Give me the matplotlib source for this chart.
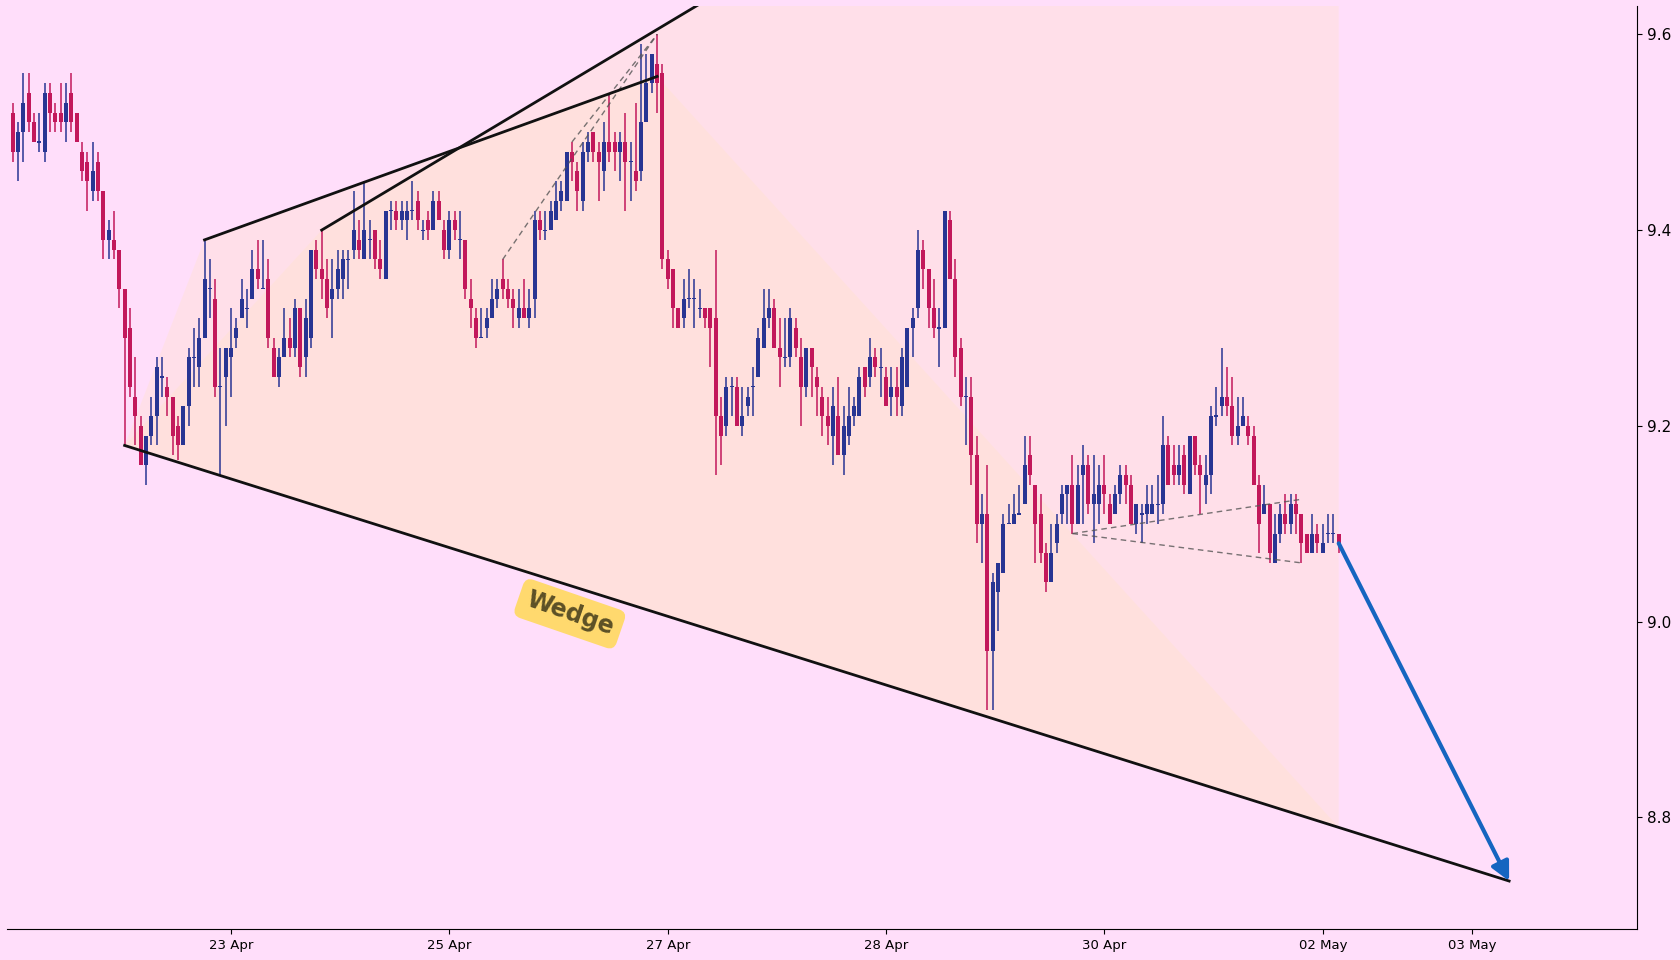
import matplotlib
matplotlib.use('Agg')
import matplotlib.pyplot as plt
import numpy as np

# OHLC values (one bar per index)
opens = [9.52, 9.48, 9.50, 9.54, 9.51, 9.49, 9.48, 9.54, 9.52, 9.52,
         9.51, 9.54, 9.52, 9.48, 9.47, 9.44, 9.47, 9.44, 9.39, 9.39,
         9.38, 9.34, 9.30, 9.23, 9.20, 9.16, 9.19, 9.21, 9.25, 9.24,
         9.23, 9.20, 9.18, 9.22, 9.27, 9.26, 9.29, 9.34, 9.33, 9.24,
         9.25, 9.27, 9.29, 9.31, 9.32, 9.33, 9.36, 9.34, 9.35, 9.28,
         9.25, 9.27, 9.29, 9.28, 9.32, 9.27, 9.29, 9.38, 9.36, 9.35,
         9.33, 9.34, 9.35, 9.37, 9.38, 9.39, 9.37, 9.39, 9.40, 9.37,
         9.35, 9.42, 9.42, 9.41, 9.41, 9.42, 9.43, 9.40, 9.41, 9.40,
         9.43, 9.40, 9.38, 9.41, 9.39, 9.39, 9.33, 9.31, 9.29, 9.30,
         9.31, 9.33, 9.35, 9.34, 9.33, 9.31, 9.32, 9.31, 9.33, 9.41,
         9.40, 9.40, 9.41, 9.43, 9.43, 9.48, 9.46, 9.43, 9.48, 9.50,
         9.48, 9.46, 9.49, 9.49, 9.48, 9.49, 9.47, 9.46, 9.46, 9.51,
         9.55, 9.57, 9.56, 9.37, 9.36, 9.32, 9.31, 9.33, 9.33, 9.32,
         9.32, 9.32, 9.31, 9.21, 9.20, 9.24, 9.24, 9.20, 9.22, 9.24,
         9.25, 9.28, 9.31, 9.32, 9.28, 9.27, 9.27, 9.30, 9.27, 9.24,
         9.28, 9.25, 9.23, 9.21, 9.19, 9.21, 9.17, 9.19, 9.21, 9.21,
         9.26, 9.25, 9.27, 9.26, 9.25, 9.23, 9.24, 9.22, 9.24, 9.30,
         9.32, 9.38, 9.36, 9.32, 9.30, 9.30, 9.41, 9.35, 9.28, 9.23,
         9.23, 9.17, 9.10, 9.11, 8.97, 9.03, 9.05, 9.10, 9.10, 9.11,
         9.12, 9.17, 9.14, 9.11, 9.07, 9.04, 9.08, 9.11, 9.13, 9.14,
         9.10, 9.15, 9.16, 9.12, 9.12, 9.14, 9.12, 9.11, 9.13, 9.15,
         9.14, 9.10, 9.11, 9.11, 9.11, 9.12, 9.12, 9.18, 9.16, 9.15,
         9.17, 9.13, 9.19, 9.16, 9.14, 9.15, 9.21, 9.22, 9.23, 9.22,
         9.19, 9.20, 9.20, 9.19, 9.14, 9.11, 9.12, 9.06, 9.09, 9.11,
         9.10, 9.12, 9.11, 9.09, 9.07, 9.09, 9.07, 9.09, 9.09, 9.09]
highs = [9.53, 9.51, 9.56, 9.56, 9.52, 9.52, 9.55, 9.55, 9.53, 9.55,
         9.55, 9.56, 9.52, 9.49, 9.48, 9.49, 9.48, 9.44, 9.41, 9.42,
         9.38, 9.34, 9.32, 9.27, 9.21, 9.19, 9.23, 9.27, 9.27, 9.25,
         9.23, 9.21, 9.22, 9.28, 9.30, 9.31, 9.39, 9.37, 9.35, 9.28,
         9.28, 9.32, 9.31, 9.35, 9.34, 9.38, 9.39, 9.39, 9.37, 9.29,
         9.28, 9.32, 9.31, 9.33, 9.32, 9.33, 9.38, 9.39, 9.40, 9.37,
         9.37, 9.38, 9.38, 9.38, 9.44, 9.41, 9.45, 9.41, 9.40, 9.39,
         9.42, 9.43, 9.43, 9.43, 9.43, 9.45, 9.44, 9.41, 9.42, 9.44,
         9.44, 9.41, 9.42, 9.42, 9.42, 9.39, 9.35, 9.32, 9.32, 9.32,
         9.35, 9.35, 9.37, 9.35, 9.34, 9.34, 9.35, 9.34, 9.42, 9.42,
         9.42, 9.43, 9.45, 9.45, 9.48, 9.49, 9.47, 9.49, 9.50, 9.50,
         9.49, 9.51, 9.54, 9.50, 9.50, 9.52, 9.49, 9.53, 9.59, 9.58,
         9.58, 9.60, 9.57, 9.38, 9.36, 9.32, 9.35, 9.36, 9.35, 9.34,
         9.32, 9.32, 9.38, 9.23, 9.25, 9.25, 9.25, 9.24, 9.24, 9.26,
         9.30, 9.34, 9.34, 9.33, 9.31, 9.31, 9.32, 9.31, 9.29, 9.28,
         9.28, 9.26, 9.24, 9.23, 9.24, 9.25, 9.22, 9.24, 9.23, 9.26,
         9.26, 9.29, 9.28, 9.28, 9.26, 9.26, 9.26, 9.28, 9.30, 9.32,
         9.40, 9.39, 9.36, 9.35, 9.32, 9.42, 9.42, 9.37, 9.29, 9.25,
         9.25, 9.19, 9.13, 9.16, 9.05, 9.06, 9.11, 9.12, 9.13, 9.14,
         9.19, 9.19, 9.14, 9.13, 9.08, 9.10, 9.11, 9.14, 9.14, 9.17,
         9.16, 9.18, 9.17, 9.17, 9.16, 9.17, 9.13, 9.14, 9.16, 9.16,
         9.15, 9.12, 9.12, 9.14, 9.14, 9.15, 9.21, 9.19, 9.18, 9.18,
         9.18, 9.19, 9.19, 9.17, 9.17, 9.22, 9.24, 9.28, 9.26, 9.25,
         9.23, 9.23, 9.21, 9.20, 9.15, 9.14, 9.12, 9.11, 9.12, 9.13,
         9.13, 9.13, 9.11, 9.09, 9.11, 9.10, 9.10, 9.11, 9.11, 9.09]
lows = [9.47, 9.45, 9.47, 9.50, 9.49, 9.48, 9.47, 9.50, 9.50, 9.50,
        9.49, 9.50, 9.49, 9.45, 9.42, 9.43, 9.43, 9.37, 9.37, 9.37,
        9.32, 9.18, 9.23, 9.18, 9.16, 9.14, 9.18, 9.18, 9.23, 9.21,
        9.17, 9.165, 9.18, 9.20, 9.24, 9.24, 9.29, 9.31, 9.23, 9.15,
        9.20, 9.23, 9.28, 9.31, 9.30, 9.33, 9.34, 9.34, 9.28, 9.25,
        9.24, 9.27, 9.27, 9.27, 9.25, 9.25, 9.28, 9.35, 9.33, 9.31,
        9.29, 9.33, 9.33, 9.34, 9.37, 9.37, 9.37, 9.37, 9.36, 9.35,
        9.35, 9.40, 9.40, 9.40, 9.39, 9.41, 9.40, 9.39, 9.39, 9.40,
        9.41, 9.37, 9.37, 9.39, 9.37, 9.33, 9.30, 9.28, 9.29, 9.29,
        9.31, 9.32, 9.33, 9.32, 9.30, 9.30, 9.31, 9.30, 9.31, 9.39,
        9.39, 9.40, 9.41, 9.42, 9.43, 9.45, 9.42, 9.42, 9.47, 9.47,
        9.43, 9.44, 9.47, 9.46, 9.45, 9.42, 9.43, 9.44, 9.45, 9.51,
        9.54, 9.52, 9.36, 9.34, 9.30, 9.30, 9.30, 9.32, 9.30, 9.31,
        9.30, 9.26, 9.15, 9.16, 9.19, 9.21, 9.20, 9.19, 9.21, 9.21,
        9.25, 9.28, 9.30, 9.28, 9.24, 9.26, 9.26, 9.27, 9.20, 9.23,
        9.23, 9.21, 9.19, 9.18, 9.16, 9.17, 9.15, 9.18, 9.20, 9.21,
        9.23, 9.24, 9.25, 9.23, 9.22, 9.21, 9.21, 9.21, 9.24, 9.27,
        9.31, 9.34, 9.30, 9.29, 9.26, 9.30, 9.35, 9.25, 9.22, 9.18,
        9.14, 9.08, 9.06, 8.91, 8.91, 8.99, 9.05, 9.10, 9.10, 9.11,
        9.12, 9.14, 9.06, 9.06, 9.03, 9.04, 9.07, 9.10, 9.10, 9.09,
        9.10, 9.10, 9.11, 9.08, 9.10, 9.11, 9.10, 9.11, 9.12, 9.12,
        9.10, 9.09, 9.08, 9.10, 9.11, 9.10, 9.11, 9.14, 9.14, 9.14,
        9.13, 9.13, 9.15, 9.11, 9.12, 9.13, 9.20, 9.21, 9.21, 9.18,
        9.18, 9.20, 9.18, 9.14, 9.07, 9.11, 9.06, 9.06, 9.08, 9.09,
        9.09, 9.09, 9.06, 9.07, 9.07, 9.07, 9.07, 9.08, 9.08, 9.07]
closes = [9.48, 9.50, 9.53, 9.51, 9.49, 9.49, 9.54, 9.52, 9.51, 9.51,
          9.53, 9.51, 9.49, 9.46, 9.45, 9.46, 9.44, 9.39, 9.40, 9.38,
          9.34, 9.29, 9.24, 9.21, 9.16, 9.19, 9.21, 9.26, 9.25, 9.23,
          9.19, 9.18, 9.22, 9.27, 9.27, 9.29, 9.35, 9.34, 9.24, 9.24,
          9.28, 9.28, 9.30, 9.33, 9.32, 9.36, 9.35, 9.34, 9.29, 9.25,
          9.27, 9.29, 9.28, 9.32, 9.26, 9.31, 9.38, 9.36, 9.35, 9.32,
          9.34, 9.36, 9.37, 9.37, 9.40, 9.38, 9.40, 9.39, 9.37, 9.36,
          9.42, 9.42, 9.41, 9.42, 9.42, 9.42, 9.41, 9.40, 9.40, 9.43,
          9.41, 9.38, 9.41, 9.40, 9.39, 9.34, 9.32, 9.29, 9.29, 9.31,
          9.33, 9.34, 9.34, 9.33, 9.32, 9.32, 9.31, 9.32, 9.41, 9.40,
          9.40, 9.42, 9.43, 9.44, 9.48, 9.47, 9.44, 9.48, 9.49, 9.48,
          9.47, 9.49, 9.48, 9.48, 9.49, 9.47, 9.47, 9.45, 9.51, 9.55,
          9.58, 9.55, 9.37, 9.35, 9.32, 9.30, 9.33, 9.33, 9.33, 9.32,
          9.31, 9.30, 9.21, 9.19, 9.24, 9.24, 9.20, 9.21, 9.23, 9.24,
          9.29, 9.31, 9.32, 9.28, 9.27, 9.27, 9.31, 9.28, 9.24, 9.28,
          9.26, 9.24, 9.21, 9.20, 9.22, 9.17, 9.20, 9.21, 9.22, 9.25,
          9.24, 9.27, 9.26, 9.26, 9.22, 9.24, 9.23, 9.27, 9.30, 9.31,
          9.38, 9.36, 9.32, 9.30, 9.30, 9.42, 9.35, 9.27, 9.23, 9.23,
          9.17, 9.10, 9.11, 8.97, 9.04, 9.06, 9.10, 9.10, 9.11, 9.11,
          9.16, 9.15, 9.10, 9.07, 9.04, 9.07, 9.10, 9.13, 9.14, 9.10,
          9.14, 9.16, 9.12, 9.13, 9.14, 9.13, 9.10, 9.13, 9.15, 9.14,
          9.10, 9.12, 9.11, 9.12, 9.12, 9.12, 9.18, 9.14, 9.15, 9.16,
          9.14, 9.19, 9.16, 9.15, 9.15, 9.21, 9.21, 9.23, 9.22, 9.19,
          9.20, 9.21, 9.19, 9.14, 9.10, 9.12, 9.07, 9.09, 9.11, 9.10,
          9.12, 9.11, 9.08, 9.07, 9.09, 9.08, 9.08, 9.09, 9.09, 9.08]

tick_pos = [41, 82, 123, 164, 205, 246, 274]
tick_labels = ['23 Apr', '25 Apr', '27 Apr', '28 Apr', '30 Apr', '02 May', '03 May']

# pattern anchor points (bar index, price)
lower_line = [(21, 9.18), (281, 8.735)]
upper_short = [(36, 9.39), (121, 9.557)]   # ends at the top bar
upper_long = [(58, 9.40), (121, 9.605)]    # runs on past the top
dash_top = [[(92, 9.37), (121, 9.60)], [(105, 9.49), (121, 9.60)]]
dash_tri = [[(199, 9.09), (242, 9.125)], [(199, 9.09), (242, 9.06)]]
target = [(249, 9.08), (281, 8.735)]
label_pos = (104.6, 9.008)

BG = '#FFDEFA'
UP = '#283593'
DOWN = '#C2185B'


def line_at(p, x):
    (x0, y0), (x1, y1) = p
    return y0 + (y1 - y0) * (x - x0) / (x1 - x0)


fig = plt.figure(figsize=(16.8, 9.6), dpi=100, facecolor=BG)
ax = fig.add_axes([0.00446, 0.0323, 0.9699, 0.9615])
ax.set_facecolor(BG)

o = np.array(opens)
h = np.array(highs)
l = np.array(lows)
c = np.array(closes)
x = np.arange(len(o))
cols = np.where(c >= o, UP, DOWN)

last = len(o) - 1
# wedge fills
p1 = [lower_line[0], upper_long[0], (last, line_at(upper_long, last)),
      (last, line_at(lower_line, last))]
p2 = [lower_line[0], upper_short[0], upper_short[1],
      (last, line_at(lower_line, last))]
for poly in (p1, p2):
    ax.fill([p[0] for p in poly], [p[1] for p in poly],
            color='#FFE4C4', alpha=0.3, lw=0, zorder=1)

ax.vlines(x, l, h, colors=cols, lw=1.1, zorder=3)
body = np.maximum(np.abs(c - o), 0.0012)
ax.bar(x, body, bottom=np.minimum(o, c) - np.where(c == o, 0.0006, 0),
       width=0.75, color=cols, lw=0, zorder=4)

# trend lines
ax.plot([lower_line[0][0], lower_line[1][0]],
        [lower_line[0][1], lower_line[1][1]], color='#111111', lw=2, zorder=6)
xe = 160
ax.plot([upper_long[0][0], xe],
        [upper_long[0][1], line_at(upper_long, xe)], color='#111111', lw=2, zorder=6)
ax.plot([upper_short[0][0], upper_short[1][0]],
        [upper_short[0][1], upper_short[1][1]], color='#111111', lw=2, zorder=6)
for seg in dash_top + dash_tri:
    ax.plot([seg[0][0], seg[1][0]], [seg[0][1], seg[1][1]],
            color='#555555', alpha=0.8, lw=1, ls=(0, (4, 3)), zorder=5)

ax.annotate('', xy=target[1], xytext=target[0],
            arrowprops=dict(arrowstyle='-|>', color='#1565C0', lw=3,
                            mutation_scale=28, shrinkA=0, shrinkB=0),
            zorder=7)

ax.text(label_pos[0], label_pos[1], 'Wedge', fontsize=17, fontweight='bold',
        color='#5C5026', rotation=-19, ha='center', va='center', zorder=8,
        bbox=dict(boxstyle='round,pad=0.35', fc='#FFD966', ec='none', alpha=0.95))

ax.set_xlim(-1, 305)
ax.set_ylim(8.686, 9.629)
ax.set_xticks(tick_pos)
ax.set_xticklabels(tick_labels, fontsize=9.5)
ax.set_yticks([8.8, 9.0, 9.2, 9.4, 9.6])
ax.yaxis.tick_right()
ax.tick_params(axis='y', labelsize=11)
for s in ('left', 'top'):
    ax.spines[s].set_visible(False)

fig.savefig('out.png', dpi=100, facecolor=BG)
